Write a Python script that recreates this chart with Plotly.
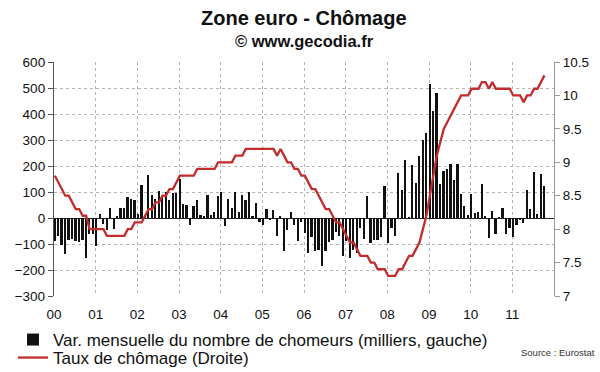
import plotly.graph_objects as go

year_labels = ["00", "01", "02", "03", "04", "05", "06", "07", "08", "09", "10", "11"]

# Monthly change in number of unemployed (thousands), Jan 2000 -> Oct 2011
var_mensuelle = [
    -90, -68, -103, -137, -83, -81, -90, -94, -83, -154, -60, -62,
    -106, 17, -22, -45, 38, -42, 9, 37, 37, 79, 73, 70,
    17, 128, 8, 167, 90, 75, 105, 85, 100, 70, 95, 95,
    150, 55, 50, -25, 45, 70, 12, 5, 90, 12, 25, 85,
    100, -30, 75, 40, 100, 22, 90, 70, 100, 6, 58, -15,
    -28, 36, -4, 32, -70, 6, -125, -45, 22, -26, -90, -15,
    -58, -135, -73, -128, -122, -186, -128, -92, -86, -54, -68, -147,
    -90, -155, -122, -136, -40, -80, 85, -95, -86, -83, -73, 124,
    -97, -40, -70, 174, 106, 223, 3, 204, 133, 240, 299, 328,
    514, 410, 480, 130, 180, 188, 207, 147, 207, 91, 48, 10,
    92, 21, 22, 131, 8, -77, 27, -63, 3, 40, -60, -38,
    -73, -28, -8, -19, 109, 35, 176, 17, 171, 124,
]

# Unemployment rate (%), Jan 2000 -> Oct 2011
taux = [
    8.8, 8.7, 8.6, 8.5, 8.5, 8.4, 8.3, 8.3, 8.2, 8.2, 8.0, 8.0,
    8.0, 8.0, 8.0, 7.9, 7.9, 7.9, 7.9, 7.9, 7.9, 8.0, 8.0, 8.1,
    8.1, 8.1, 8.2, 8.3, 8.3, 8.4, 8.4, 8.5, 8.5, 8.6, 8.6, 8.7,
    8.8, 8.8, 8.8, 8.8, 8.8, 8.9, 8.9, 8.9, 8.9, 8.9, 8.9, 9.0,
    9.0, 9.0, 9.0, 9.0, 9.1, 9.1, 9.1, 9.2, 9.2, 9.2, 9.2, 9.2,
    9.2, 9.2, 9.2, 9.2, 9.1, 9.2, 9.1, 9.0, 9.0, 8.9, 8.9, 8.8,
    8.8, 8.7, 8.6, 8.6, 8.5, 8.4, 8.3, 8.3, 8.2, 8.1, 8.1, 8.0,
    7.9, 7.8, 7.8, 7.7, 7.6, 7.6, 7.6, 7.5, 7.5, 7.4, 7.4, 7.4,
    7.3, 7.3, 7.3, 7.4, 7.4, 7.5, 7.6, 7.6, 7.7, 7.8, 8.0, 8.2,
    8.5, 8.8, 9.1, 9.3, 9.5, 9.6, 9.7, 9.8, 9.9, 10.0, 10.0, 10.0,
    10.1, 10.1, 10.1, 10.2, 10.2, 10.1, 10.2, 10.1, 10.1, 10.1, 10.1, 10.1,
    10.0, 10.0, 10.0, 9.9, 10.0, 10.0, 10.1, 10.1, 10.2, 10.3,
]

months = [i + 0.25 for i in range(len(taux))]
year_pos = [12 * k for k in range(len(year_labels))]

FONT = "Liberation Sans, Arial, sans-serif"
W, H = 600, 372
ML, MR, MT, MB = 54, 46, 62, 76
PW, PH = W - ML - MR, H - MT - MB


def px_x(x):
    return (x - ML) / PW


def px_y(y):
    return (H - MB - y) / PH


fig = go.Figure()
fig.add_trace(go.Bar(
    x=months, y=var_mensuelle, width=0.5,
    marker=dict(color="#111111", line=dict(width=0)),
    name="Var. mensuelle du nombre de chomeurs (milliers, gauche)",
    legend="legend",
))
fig.add_trace(go.Scatter(
    x=months, y=taux, yaxis="y2", mode="lines",
    line=dict(color="#C42B2B", width=2.3),
    name="Taux de chômage (Droite)",
    legend="legend2",
))

leg_common = dict(
    xanchor="left", yanchor="middle", orientation="v",
    font=dict(size=17, color="#111"), bgcolor="rgba(0,0,0,0)",
    borderwidth=0, itemwidth=30,
)

fig.update_layout(
    width=W, height=H,
    margin=dict(l=ML, r=MR, t=MT, b=MB, autoexpand=False),
    paper_bgcolor="white", plot_bgcolor="white",
    font=dict(family=FONT, size=13.5, color="#111"),
    showlegend=True,
    bargap=0,
    legend=dict(x=px_x(13), y=px_y(340), **leg_common),
    legend2=dict(x=px_x(13), y=px_y(358), **leg_common),
    xaxis=dict(
        range=[0, 144], tickvals=year_pos, ticktext=year_labels,
        showgrid=True, gridcolor="#b5b5b5", griddash="dot", gridwidth=1,
        showline=False, zeroline=False, ticks="",
        ticklabelstandoff=8,
        tickfont=dict(size=13.5, color="#111"),
    ),
    yaxis=dict(
        range=[-300, 600], dtick=100,
        showgrid=True, gridcolor="#b5b5b5", griddash="dot", gridwidth=1,
        showline=True, linecolor="#555", linewidth=1.3,
        ticks="outside", ticklen=5, tickcolor="#555",
        zeroline=True, zerolinecolor="#222", zerolinewidth=1,
        tickfont=dict(size=13.5, color="#111"),
    ),
    yaxis2=dict(
        range=[7, 10.5], dtick=0.5, overlaying="y", side="right",
        showgrid=False, zeroline=False,
        showline=True, linecolor="#999", linewidth=1.3,
        ticks="outside", ticklen=5, tickcolor="#999",
        tickfont=dict(size=13.5, color="#111"),
    ),
    annotations=[
        dict(text="<b>Zone euro - Chômage</b>", xref="paper", yref="paper",
             x=0.5, y=px_y(18), yanchor="middle",
             showarrow=False, font=dict(size=20, color="#111")),
        dict(text="<b>© www.gecodia.fr</b>", xref="paper", yref="paper",
             x=0.5, y=px_y(41), yanchor="middle",
             showarrow=False, font=dict(size=16.5, color="#111")),
        dict(text="Source : Eurostat", xref="paper", yref="paper",
             x=px_x(597), y=px_y(352), xanchor="right", yanchor="middle",
             showarrow=False, font=dict(size=9.5, color="#333")),
    ],
)

fig.write_html("out.html", config={"displayModeBar": False},
               post_script="document.body.style.margin='0px';")
